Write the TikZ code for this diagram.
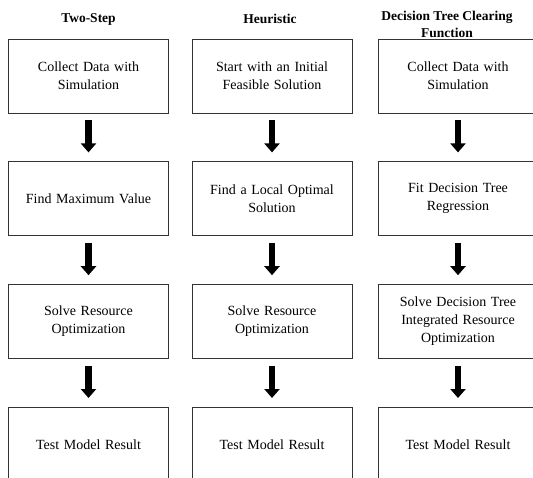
\documentclass[tikz,border=0pt]{standalone}
\usepackage{fontspec}
\setmainfont{Liberation Serif}
\usetikzlibrary{arrows.meta, chains, positioning}
\tikzset{FlowChart/.style={
    node distance = 48bp and 23bp,
    base/.style = {draw=black!80, line width=0.8bp, minimum width=160bp, minimum height=74bp,
                   align=center, on chain, text width=150bp,
                   font=\fontsize{14bp}{18bp}\selectfont},
    process/.style = {base},
    heading/.style = {align=center, font=\fontsize{13.5bp}{17bp}\selectfont\bfseries},
    bigarrow/.style = {line width=6.5bp, arrows=-{Triangle[width=15bp, length=9bp]},
                       shorten <=7bp, shorten >=9bp}
}}
\begin{document}
\begin{tikzpicture}[FlowChart]
    \useasboundingbox (0,0) rectangle (533bp,-478bp);
    \clip (0,0) rectangle (533bp,-478bp);

    % Two-Step
    \begin{scope}[start chain = A going below]
        \node [process] at (88.5bp,-76bp) {Collect Data with\\Simulation};
        \node [process] {Find Maximum Value};
        \node [process] {Solve Resource\\Optimization};
        \node [process] {Test Model Result};
    \end{scope}

    % Heuristic
    \begin{scope}[start chain = B going below]
        \node [process] at (272bp,-76bp) {Start with an Initial\\Feasible Solution};
        \node [process] {Find a Local Optimal\\Solution};
        \node [process] {Solve Resource\\Optimization};
        \node [process] {Test Model Result};
    \end{scope}

    % Decision Tree Clearing Function
    \begin{scope}[start chain = C going below]
        \node [process] at (458bp,-76bp) {Collect Data with\\Simulation};
        \node [process] {Fit Decision Tree\\Regression};
        \node [process] {Solve Decision Tree\\Integrated Resource\\Optimization};
        \node [process] {Test Model Result};
    \end{scope}

    \node [heading] (T-1) at (88.5bp,-19bp) {Two-Step};
    \node [heading] (T-2) at (270bp,-19bp) {Heuristic};
    \node [heading] (T-3) at (447bp,-24bp) {Decision Tree Clearing\\Function};

    \draw [bigarrow]
    (A-1) edge (A-2)
    (A-2) edge (A-3)
    (A-3) edge (A-4)
    (B-1) edge (B-2)
    (B-2) edge (B-3)
    (B-3) edge (B-4)
    (C-1) edge (C-2)
    (C-2) edge (C-3)
    (C-3) edge (C-4);
\end{tikzpicture}
\end{document}
